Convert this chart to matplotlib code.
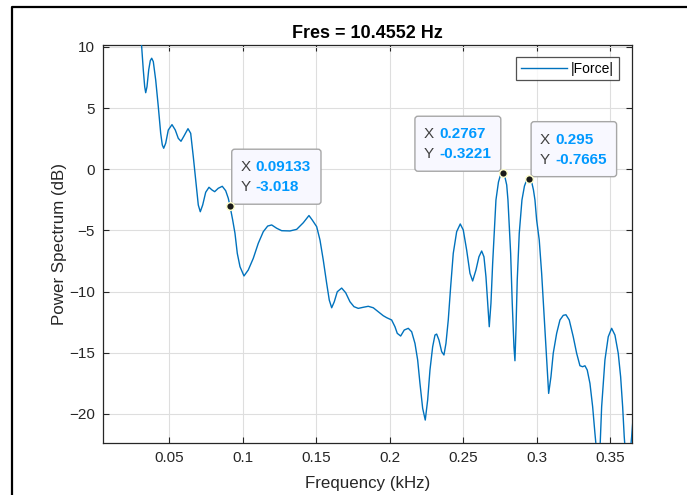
import matplotlib
matplotlib.use('Agg')
import matplotlib.pyplot as plt
from matplotlib.lines import Line2D
from matplotlib.patches import FancyBboxPatch
from matplotlib.transforms import IdentityTransform

plt.rcParams['font.family'] = ['Liberation Sans', 'DejaVu Sans']

# power spectrum of |Force|, frequency in kHz, level in dB
freq = [0.0280, 0.0296, 0.03122, 0.03231, 0.03327, 0.03395, 0.03483, 0.03599,
        0.03707, 0.03803, 0.03912, 0.04075, 0.04252, 0.04415, 0.04524, 0.04619,
        0.04755, 0.04932, 0.05184, 0.05408, 0.05612, 0.05796, 0.06000, 0.06272,
        0.06456, 0.06633, 0.06816, 0.06973, 0.07109, 0.07272, 0.07476, 0.07701,
        0.07905, 0.08088, 0.08333, 0.08605, 0.08837, 0.09014, 0.09133, 0.09313,
        0.09469, 0.09626, 0.09810, 0.10082, 0.10374, 0.10714, 0.11054, 0.11395,
        0.11694, 0.11966, 0.12306, 0.12646, 0.13211, 0.13667, 0.14116, 0.14503,
        0.14728, 0.15027, 0.15252, 0.15476, 0.15707, 0.15884, 0.16048, 0.16224,
        0.16429, 0.16728, 0.17000, 0.17293, 0.17565, 0.17857, 0.18197, 0.18537,
        0.18878, 0.19218, 0.19558, 0.19789, 0.20129, 0.20354, 0.20510, 0.20741,
        0.20986, 0.21259, 0.21490, 0.21714, 0.21898, 0.22054, 0.22238, 0.22415,
        0.22578, 0.22735, 0.22918, 0.23075, 0.23190, 0.23347, 0.23531, 0.23687,
        0.23823, 0.23980, 0.24143, 0.24320, 0.24551, 0.24796, 0.25000, 0.25231,
        0.25456, 0.25639, 0.25864, 0.26068, 0.26252, 0.26408, 0.26544, 0.26660,
        0.26769, 0.26884, 0.27000, 0.27109, 0.27224, 0.27395, 0.27531, 0.2767,
        0.27820, 0.27956, 0.28041, 0.28109, 0.28224, 0.28333, 0.28449, 0.28517,
        0.28585, 0.28673, 0.28810, 0.28993, 0.29163, 0.29320, 0.295, 0.29640,
        0.29776, 0.29878, 0.29993, 0.30170, 0.30333, 0.30490, 0.30646, 0.30810,
        0.30966, 0.31122, 0.31354, 0.31578, 0.31803, 0.31986, 0.32211, 0.32483,
        0.32714, 0.32939, 0.33122, 0.33279, 0.33435, 0.33619, 0.33803, 0.33959,
        0.34095, 0.34197, 0.34299, 0.34415, 0.34639, 0.34864, 0.35095, 0.35320,
        0.35544, 0.35707, 0.35844, 0.35952, 0.36068, 0.36204, 0.36340, 0.36456,
        0.36600]
power_db = [15.5, 12.8, 10.16, 8.12, 6.75, 6.26, 6.75, 8.12,
            8.88, 9.08, 8.80, 7.30, 5.12, 2.94, 1.99, 1.72,
            2.13, 3.21, 3.65, 3.21, 2.53, 2.29, 2.72, 3.32,
            2.94, 1.03, -1.14, -2.92, -3.47, -2.92, -1.88, -1.47,
            -1.69, -1.83, -1.55, -1.39, -1.75, -2.37, -3.018, -4.15,
            -5.23, -6.87, -7.96, -8.72, -8.23, -7.28, -6.05, -5.10,
            -4.64, -4.55, -4.82, -5.02, -5.04, -4.91, -4.37, -3.78,
            -4.15, -4.69, -5.78, -7.42, -9.32, -10.69, -11.32, -10.83,
            -10.01, -9.71, -10.09, -10.83, -11.23, -11.37, -11.28, -11.20,
            -11.32, -11.64, -11.97, -12.13, -12.32, -12.87, -13.41, -13.63,
            -13.14, -13.00, -13.28, -14.23, -15.59, -17.50, -19.54, -20.50,
            -18.86, -16.41, -14.51, -13.55, -13.47, -13.96, -14.91, -15.18,
            -14.23, -12.32, -9.60, -6.87, -5.10, -4.47, -4.96, -6.60,
            -8.50, -9.13, -8.23, -7.15, -6.68, -7.15, -8.78, -10.96,
            -12.87, -10.96, -7.69, -5.23, -2.51, -1.04, -0.47, -0.3221,
            -0.55, -1.28, -2.51, -4.15, -6.87, -10.96, -14.51, -15.65,
            -13.14, -9.05, -5.23, -2.51, -1.37, -0.87, -0.7665, -0.96,
            -1.69, -2.51, -4.15, -5.78, -8.50, -11.77, -15.04, -18.32,
            -16.96, -15.04, -13.41, -12.32, -11.94, -11.89, -12.32, -13.69,
            -15.04, -16.06, -16.14, -16.06, -16.41, -17.50, -19.41, -21.59,
            -23.36, -23.93, -22.95, -19.41, -15.59, -13.69, -13.00, -13.55,
            -15.04, -16.96, -19.41, -21.86, -23.77, -24.59, -23.36, -21.86,
            -19.60]

# data tips: frequency, level, which side of the point the box sits on
tip_x = [0.09133, 0.2767, 0.295]
tip_y = [-3.018, -0.3221, -0.7665]
tip_side = [1, -1, 1]

x_ticks = [0.05, 0.1, 0.15, 0.2, 0.25, 0.3, 0.35]
x_ticklabels = ['0.05', '0.1', '0.15', '0.2', '0.25', '0.3', '0.35']
y_ticks = [-20, -15, -10, -5, 0, 5, 10]

W, H = 687, 495
fig = plt.figure(figsize=(W / 100, H / 100), dpi=100)
ax = fig.add_axes([103 / W, 52.3 / H, 528.7 / W, 397.7 / H])

line_c = '#0072BD'
dark = '#262626'
ax.plot(freq, power_db, color=line_c, lw=1.0, label='|Force|', zorder=3,
        solid_joinstyle='round')

ax.set_xlim(0.0049, 0.3646)
ax.set_ylim(-22.35, 10.16)
ax.set_xticks(x_ticks)
ax.set_xticklabels(x_ticklabels)
ax.set_yticks(y_ticks)
ax.grid(True, color='#dedede', lw=0.8)
ax.set_axisbelow(True)
ax.tick_params(direction='in', length=4, width=0.8, top=True, right=True,
               labelsize=11, colors=dark, pad=6)
for s in ax.spines.values():
    s.set_color(dark)
    s.set_linewidth(0.9)

ax.set_xlabel('Frequency (kHz)', fontsize=12.2, color=dark, labelpad=8)
ax.set_ylabel('Power Spectrum (dB)', fontsize=12.2, color=dark, labelpad=1)
ax.set_title('Fres = 10.4552 Hz', fontsize=13, fontweight='bold', color='black', pad=5)

leg = ax.legend(loc='upper right', bbox_to_anchor=(619 / W, 1 - 56.7 / H),
                bbox_transform=fig.transFigure, fontsize=10, frameon=True,
                fancybox=False, handlelength=3.3, handletextpad=0.3,
                borderpad=0.35, borderaxespad=0)
leg.get_frame().set_edgecolor(dark)
leg.get_frame().set_linewidth(0.9)

# data tip boxes, drawn in pixel units around each marked point
fig.canvas.draw()
renderer = fig.canvas.get_renderer()
pix = IdentityTransform()
for tx, ty, side in zip(tip_x, tip_y, tip_side):
    px, py = ax.transData.transform((tx, ty))
    rows = [('X', f'{tx:.4g}'), ('Y', f'{ty:.4g}')]
    widths = []
    for _, val in rows:
        t = fig.text(0, 0, val, fontsize=11, fontweight='bold')
        widths.append(t.get_window_extent(renderer).width)
        t.remove()
    box_w = 25 + max(widths) + 9
    box_h = 55
    left = px + 1.7 if side > 0 else px - 1.7 - box_w
    bottom = py + 2
    box = FancyBboxPatch((left, bottom), box_w, box_h,
                         boxstyle='round,pad=0,rounding_size=3',
                         transform=pix, facecolor='#f8f8ff', edgecolor='#a6a6a6',
                         lw=1.0, zorder=5, clip_on=False)
    ax.add_patch(box)
    for i, (name, val) in enumerate(rows):
        yy = bottom + box_h - 18 - i * 20
        ax.text(left + 8.5, yy, name, transform=pix, fontsize=11, color='#404040',
                va='center', ha='left', zorder=6)
        ax.text(left + 24, yy, val, transform=pix, fontsize=11, fontweight='bold',
                color='#0099ff', va='center', ha='left', zorder=6)
    ax.plot(tx, ty, 'o', ms=5.5, color='#1a1a1a', mec='#ffffcc', mew=1.0,
            zorder=7, clip_on=False)

# panel frame
fig.add_artist(Line2D([11.5 / W, 11.5 / W, 1], [0, 1 - 6.5 / H, 1 - 6.5 / H],
                      transform=fig.transFigure, color='black', lw=1.6))

fig.savefig('out.png', dpi=100, facecolor='white')
